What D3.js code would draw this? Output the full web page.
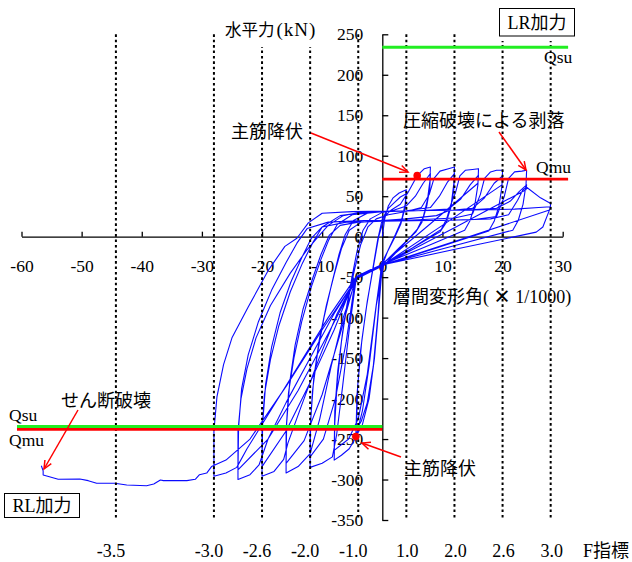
<!DOCTYPE html>
<html>
<head>
<meta charset="utf-8">
<script src="https://cdn.jsdelivr.net/npm/d3@7"></script>
<style>
  body { margin: 0; background: #fff; }
  svg { display: block; }
  text { font-family: "Liberation Serif", "Noto Sans CJK JP", serif; fill: #000; }
</style>
</head>
<body>
<svg id="chart" width="632" height="562"></svg>
<script>
// ---- data ----------------------------------------------------------------
// story drift angle (x 1/1000) axis ticks and horizontal force (kN) ticks
const driftTicks = [-60, -50, -40, -30, -20, -10, 0, 10, 20, 30];
const forceTicks = [-350, -300, -250, -200, -150, -100, -50, 0, 50, 100, 150, 200, 250];

// F index reference lines (drift position and label)
const fIndexDrift  = [-44.3, -28, -20, -12, -4, 4, 12, 20, 28];
const fIndexLabels = ["-3.5", "-3.0", "-2.6", "-2.0", "-1.0", "1.0", "2.0", "2.6", "3.0"];

// calculated strengths (kN)
const qsuPos = 234, qmuPos = 71;
const qsuNeg = -234.5, qmuNeg = -238;

// rebar yield points marked on the loop
const yieldPoints = [[5.8, 75.4], [-4.4, -247]];

// load-displacement path, one array per drift amplitude (two cycles each)
const cyc04 = [
  [0,0],[0.4,22],[1,38],[1.8,48],[2.8,54],[4,58],
  [3.8,40],[3.2,20],[2.2,3],[1,-16],[0,-35],
  [-0.6,-90],[-1.3,-150],[-2.2,-200],[-3.3,-232],[-4.4,-247],
  [-4.2,-195],[-3.6,-140],[-2.7,-90],[-1.7,-45],[-0.8,-5],[0,22],[1,35],[2,42],[3,49],[4,53],
  [3.8,36],[3.1,16],[2,-2],[0.9,-18],[-0.2,-34],
  [-0.7,-95],[-1.5,-160],[-2.5,-205],[-3.5,-228],[-4.3,-238],
  [-4.1,-185],[-3.4,-128],[-2.5,-80],[-1.5,-38],[-0.6,0],[0.4,25]
];
const cyc08 = [
  [1.5,33],[3,40],[4.3,55],[5.8,75.4],[7,84],[8,86],
  [7.9,68],[7.5,45],[6.8,24],[5.8,9],[3,-14],[0.2,-36],
  [-1,-85],[-2.2,-160],[-3.3,-215],[-4.4,-248],[-5.5,-262],[-6.8,-270],[-8,-276],
  [-7.9,-230],[-7.5,-180],[-6.8,-130],[-5.9,-85],[-5,-48],[-4.2,-18],[-3.2,8],[-2,22],[0,30],[2,33],[4,38],[5.5,50],[6.8,66],[8,78],
  [7.9,60],[7.4,38],[6.6,18],[5.6,6],[2.8,-14],[-0.1,-35],
  [-1.2,-95],[-2.5,-170],[-4,-225],[-5.6,-250],[-8,-264],
  [-7.9,-215],[-7.4,-165],[-6.6,-118],[-5.6,-75],[-4.6,-40],[-3.6,-10],[-2.4,12],[-1,22]
];
const cyc12 = [
  [1,27],[4,31],[6.5,36],[7.8,52],[8.6,72],[9.6,81],[11,84],[12,86],
  [11.9,66],[11.5,42],[10.7,22],[9.8,9],[5,-14],[0,-35],
  [-2,-42],[-4.3,-50],[-5.5,-115],[-6.6,-185],[-7.6,-245],[-8.3,-272],[-10,-280],[-12,-285],
  [-12,-238],[-11.6,-190],[-10.8,-145],[-9.7,-100],[-8.4,-58],[-7.2,-22],[-6.2,2],[-4.8,20],[-2.5,29],[0,31],[4,32],[8,36],[9.5,50],[10.8,67],[12,78],
  [11.9,58],[11.4,36],[10.6,17],[9.6,6],[4.8,-15],[0.1,-36],
  [-2.1,-44],[-4.5,-53],[-6,-130],[-7.8,-200],[-9.8,-250],[-12,-272],
  [-11.9,-225],[-11.4,-175],[-10.5,-128],[-9.3,-85],[-8,-47],[-6.8,-15],[-5.5,8],[-3.5,18],[0,20]
];
const cyc16 = [
  [4,22],[9,26],[11,32],[12.2,55],[12.9,75],[13.8,82],[15,83],[16,84],
  [15.9,64],[15.4,40],[14.6,20],[13.7,8],[7,-13],[-0.2,-35],
  [-2,-41],[-4.2,-49],[-6.5,-100],[-8.5,-160],[-10.4,-225],[-12,-268],[-14,-284],[-16,-292],
  [-16,-240],[-15.6,-193],[-14.7,-150],[-13.4,-105],[-11.8,-62],[-10.2,-28],[-8.9,-4],[-7.5,15],[-5,27],[0,31],[6,32],[11,34],[13,46],[14.6,64],[16,76],
  [15.9,66],[8,16],[0,-34],
  [-2,-43],[-4.4,-51],[-7,-120],[-10,-195],[-13,-252],[-16,-280],
  [-15.9,-230],[-15.4,-180],[-14.5,-134],[-13.2,-90],[-11.6,-52],[-10.2,-22],[-8.8,2],[-7,14],[-4,18],[0,19]
];
const cyc20 = [
  [6,21],[12,23],[15,28],[16.3,52],[17,72],[18,80],[19,82],[20,82],
  [19.9,62],[19.4,38],[18.6,19],[17.7,7],[9,-14],[0.1,-35],
  [-2,-42],[-4.3,-50],[-7.5,-95],[-10.5,-150],[-13.5,-210],[-15.7,-255],[-16.4,-275],[-18,-290],[-20,-296],
  [-20,-240],[-19.6,-195],[-18.6,-152],[-17.2,-110],[-15.3,-68],[-13.3,-33],[-11.6,-8],[-10,12],[-7,26],[-3,30],[5,32],[12,33],[15,35],[17,48],[18.6,66],[20,75],
  [19.9,64],[10,14],[-0.1,-36],
  [-2.2,-44],[-4.6,-52],[-8,-115],[-12,-180],[-16,-240],[-20,-284],
  [-19.9,-232],[-19.4,-182],[-18.4,-136],[-17,-94],[-15.2,-56],[-13.4,-26],[-11.8,-2],[-10,12],[-6,18],[0,19]
];
const cyc24 = [
  [8,20],[15,21],[19,25],[20.3,50],[21,72],[22,80],[23.2,81],[24,82],
  [23.9,64],[23.4,40],[22.6,20],[21.7,8],[11,-13],[0,-35],
  [-2,-42],[-4.2,-50],[-8,-95],[-12,-150],[-16,-205],[-19,-250],[-20.5,-282],[-22,-294],[-24,-300],
  [-24,-240],[-23.5,-200],[-22.5,-163],[-21,-125],[-18.6,-85],[-15.3,-45],[-12.6,-17],[-10.9,-2],[-9,14],[-6.5,26],[-3,31],[5,32],[14,33],[19,35],[21.3,44],[22.8,56],[24,64],
  [23.9,58],[12,11],[0.1,-35],
  [-2,-43],[-4.3,-52],[-9,-120],[-14,-190],[-19,-250],[-24,-288],
  [-23.9,-236],[-23.4,-188],[-22.3,-146],[-20.6,-105],[-18.4,-66],[-16,-32],[-14.2,-8],[-12.5,10],[-9,18],[-3,20],[5,20]
];
const cyc28 = [
  [10,20],[18,22],[21,27],[22.5,45],[23.4,58],[24,61],[26.3,48],[28,41],
  [27.9,35],[26.7,12],[25.6,5.6],[12.5,-15],[-0.1,-35],
  [-2,-42],[-4.4,-50],[-9,-100],[-14,-160],[-19,-220],[-22.5,-262],[-24.2,-285],[-26,-292],[-28,-296],
  [-28,-240],[-27.5,-198],[-26.4,-158],[-25,-125],[-22.3,-87],[-19,-42],[-16.2,-12],[-14.2,-2],[-12.3,17],[-10,29],[-5,31],[5,32],[15,33],[22,34],[26,36],[28,37],
  [27.8,33],[14,-1],[0,-35],
  [-2,-43],[-4.3,-52],[-10,-115],[-16,-185],[-22,-250],[-26,-276],[-28.4,-284],[-29.2,-292],[-30.4,-294]
];
// final push in the negative direction up to shear failure
const finalPush = [
  [-30.4,-294],[-31.1,-299.7],[-32.5,-301.4],[-36.4,-301.4],[-36.9,-300.5],[-38,-305.5],
  [-39.2,-307.6],[-42.5,-306.7],[-44.5,-304.6],[-47.5,-304.6],[-48.9,-301.4],[-50.3,-299.3],
  [-53.9,-299.7],[-55.8,-295.6],[-56.4,-294.4],[-56.4,-289.4],[-56.7,-283]
];

const loadPath = [].concat(cyc04, cyc08, cyc12, cyc16, cyc20, cyc24, cyc28, finalPush);

// ---- drawing -------------------------------------------------------------
const FONT = "'Liberation Serif', 'Noto Sans CJK JP', serif";
const svg = d3.select("#chart");
const x = d3.scaleLinear().domain([-60, 30]).range([21.5, 562.7]);
const y = d3.scaleLinear().domain([-350, 250]).range([520, 34.3]);

// axes
const xAxis = svg.append("g")
  .attr("transform", `translate(0,${y(0)})`)
  .call(d3.axisBottom(x).tickValues(driftTicks).tickSizeInner(-5).tickSizeOuter(0)
        .tickPadding(23).tickFormat(d => String(d)));
const yAxis = svg.append("g")
  .attr("transform", `translate(${x(0)},0)`)
  .call(d3.axisLeft(y).tickValues(forceTicks).tickSizeInner(-6).tickSizeOuter(0)
        .tickPadding(19).tickFormat(d => String(d)));
[xAxis, yAxis].forEach(g => {
  g.attr("font-family", FONT);
  g.selectAll("path.domain").attr("stroke", "#000").attr("stroke-width", 1.3);
  g.selectAll(".tick line").attr("stroke", "#000").attr("stroke-width", 1.3);
  g.selectAll(".tick text").style("font-family", FONT).style("font-size", "17.5px").attr("fill", "#000");
});

// hysteresis loop
svg.append("path")
  .datum(loadPath)
  .attr("d", d3.line().x(d => x(d[0])).y(d => y(d[1])))
  .attr("fill", "none")
  .attr("stroke", "#0a0aff")
  .attr("stroke-width", 1.1)
  .attr("stroke-linejoin", "round");

// F index dotted lines
svg.append("g").selectAll("line")
  .data(fIndexDrift).join("line")
  .attr("x1", d => x(d)).attr("x2", d => x(d))
  .attr("y1", y(250)).attr("y2", y(-350))
  .attr("stroke", "#000").attr("stroke-width", 2)
  .attr("stroke-dasharray", "2.6,2.8");

// strength lines
const strength = [
  {v: qsuPos, from: 0, to: 30.9, c: "#22ee22"},
  {v: qmuPos, from: 0, to: 30.9, c: "#ff0000"},
  {v: qsuNeg, from: -60.75, to: 0, c: "#22ee22"},
  {v: qmuNeg, from: -60.75, to: 0, c: "#ff0000"}
];
svg.append("g").selectAll("line")
  .data(strength).join("line")
  .attr("x1", d => x(d.from)).attr("x2", d => x(d.to))
  .attr("y1", d => y(d.v)).attr("y2", d => y(d.v))
  .attr("stroke", d => d.c).attr("stroke-width", 2.8);

// yield markers
svg.append("g").selectAll("circle")
  .data(yieldPoints).join("circle")
  .attr("cx", d => x(d[0])).attr("cy", d => y(d[1])).attr("r", 3.8)
  .attr("fill", "#ff0000");

// annotation arrows
function arrow(x1, y1, x2, y2) {
  const g = svg.append("g").attr("stroke", "#ff0000").attr("stroke-width", 1.5).attr("fill", "none");
  g.append("line").attr("x1", x1).attr("y1", y1).attr("x2", x2).attr("y2", y2);
  const a = Math.atan2(y2 - y1, x2 - x1), L = 9, h = 0.42;
  g.append("path").attr("d",
    `M${x2 - L * Math.cos(a - h)},${y2 - L * Math.sin(a - h)}L${x2},${y2}L${x2 - L * Math.cos(a + h)},${y2 - L * Math.sin(a + h)}`);
}
arrow(311, 133, 408, 172);
arrow(499, 132, 526, 170);
arrow(401, 457, 362, 443);
arrow(78, 410, 44, 469);

// text helper
function label(txt, tx, ty, size, anchor) {
  return svg.append("text").attr("x", tx).attr("y", ty)
    .attr("text-anchor", anchor || "start")
    .style("font-family", FONT).style("font-size", size + "px").text(txt);
}

// vertical axis title on a white backing
svg.append("rect").attr("x", 222).attr("y", 16).attr("width", 100).attr("height", 31).attr("fill", "#fff");
const yt = label("水平力", 225, 36, 16.5);
yt.append("tspan").style("font-size", "19px").attr("dx", 2).attr("letter-spacing", 1).text("(kN)");

// loading direction boxes
svg.append("rect").attr("x", 497).attr("y", 6).attr("width", 80).attr("height", 35).attr("fill", "#fff");
svg.append("rect").attr("x", 499.5).attr("y", 8.5).attr("width", 75).attr("height", 27.5)
  .attr("fill", "#fff").attr("stroke", "#000").attr("stroke-width", 1);
label("LR加力", 537, 29, 18, "middle");
svg.append("rect").attr("x", 4.5).attr("y", 493.5).attr("width", 75).attr("height", 24)
  .attr("fill", "#fff").attr("stroke", "#000").attr("stroke-width", 1);
label("RL加力", 42, 512, 18, "middle");

// strength labels
label("Qsu", 544, 63, 17.5);
label("Qmu", 536, 173, 17.5);
label("Qsu", 9, 421, 17.5);
label("Qmu", 9, 446, 17.5);

// event labels
label("主筋降伏", 231, 138, 18);
label("圧縮破壊による剥落", 403, 127, 18);
label("主筋降伏", 404, 475, 18);
label("せん断破壊", 61, 407, 18);

// horizontal axis title
const xt = label("層間変形角(", 393, 303, 18);
xt.append("tspan").style("font-family", "'Noto Sans CJK JP'").attr("font-weight", "bold").text(" × ");
xt.append("tspan").text("1/1000)");

// F index labels
svg.append("g").selectAll("text")
  .data(fIndexDrift).join("text")
  .attr("x", (d, i) => x(d) + (fIndexLabels[i].startsWith("-") ? -5 : 1))
  .attr("y", 557)
  .attr("text-anchor", "middle")
  .style("font-family", FONT)
  .style("font-size", "18px")
  .text((d, i) => fIndexLabels[i]);
label("F指標", 583, 557, 18);
</script>
</body>
</html>
